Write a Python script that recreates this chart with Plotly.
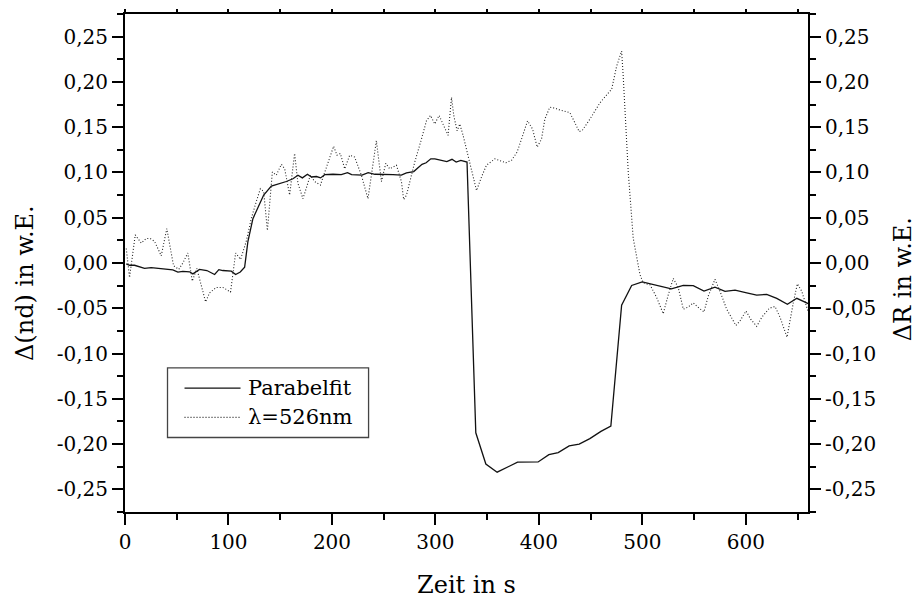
import numpy as np
import plotly.graph_objects as go

# Parabelfit (Δ(nd)), time in s
fit_t = [1.2, 4.4, 9.2, 18.9, 25.3, 39.8, 46.2, 51.1, 55.9, 62.4, 65.6, 72, 79.1, 86.6,
         90.7, 94.6, 102.7, 106.9, 111.4, 115.6, 118.8, 123.6, 130.1, 134, 141.4, 147.8,
         155.9, 162.3, 167.1, 171.4, 176.3, 180.2, 185, 189, 193, 201, 209, 215, 219, 229,
         235, 241.5, 251, 259, 267, 272, 279, 283, 287, 291, 295.5, 299.4, 306, 311, 316,
         320, 324.5, 328.6, 330.5, 339, 348.7, 359.6, 379.3, 399.2, 409.6, 418.6, 429.2,
         438.9, 449.2, 459.9, 469.5, 479.9, 489.6, 499.8, 528, 539.5, 549.1, 559.5, 570.1,
         579.8, 589.5, 600.8, 610.4, 620.1, 629.8, 640.1, 649.2, 660.5]
fit_v = [-0.001, -0.0025, -0.0025, -0.006, -0.005, -0.0073, -0.0077, -0.010, -0.0093,
         -0.0097, -0.012, -0.007, -0.0083, -0.0127, -0.0073, -0.0083, -0.009, -0.0127,
         -0.010, -0.0047, 0.024, 0.049, 0.066, 0.075, 0.085, 0.087, 0.090, 0.093, 0.097,
         0.094, 0.098, 0.095, 0.0955, 0.094, 0.0976, 0.098, 0.0976, 0.0998, 0.0976, 0.097,
         0.0998, 0.098, 0.098, 0.0976, 0.097, 0.0995, 0.101, 0.105, 0.109, 0.1107, 0.115,
         0.115, 0.113, 0.112, 0.1145, 0.1115, 0.1134, 0.112, 0.1115, -0.1875, -0.222,
         -0.231, -0.220, -0.2197, -0.2116, -0.2094, -0.202, -0.200, -0.194, -0.186, -0.180,
         -0.0467, -0.0248, -0.0208, -0.0285, -0.0248, -0.025, -0.031, -0.0266, -0.0314,
         -0.030, -0.0329, -0.0354, -0.0347, -0.039, -0.0456, -0.039, -0.045]

# Measurement at 526 nm (ΔR), time in s
meas_t = [1.2, 4.4, 9.9, 15.7, 20.5, 24.4, 28.5, 35, 40.4, 46.9, 52, 55.9, 60.7, 65, 69.4,
          77.9, 81.7, 88.2, 94.6, 102, 106.9, 111.7, 117.2, 122, 126.9, 130.8, 134, 137.6,
          142.4, 146.2, 151.1, 154.3, 159.1, 163.9, 167.1, 172, 179.1, 183.3, 188.8, 201.6,
          204.8, 208.1, 212.3, 217.1, 221.9, 228.4, 234.8, 242.9, 247.8, 252, 255.8, 262.3,
          267.1, 269.3, 272, 275.2, 280, 286.5, 291.3, 295.2, 299.3, 303.5, 307.4, 312.2,
          315.5, 317.7, 320.9, 323.5, 326.7, 331.5, 334.8, 339.7, 344.5, 349.3, 357.4,
          362.2, 368, 373.5, 378.9, 383.2, 389, 393.8, 398.3, 402.5, 405.7, 410.5, 415.4,
          420.2, 429.9, 434.7, 438.9, 442.2, 449.3, 459, 465.4, 470.3, 475.1, 479.9, 481.4,
          483.5, 486.3, 491.1, 497.6, 500.8, 507.3, 513.7, 520.1, 525, 529.8, 534.6, 536.3,
          539.5, 544.3, 549.1, 554.9, 559.5, 563.6, 570.1, 574.9, 581.4, 590.4, 594.3,
          600.1, 604.6, 610.4, 615.3, 622.6, 628.1, 633, 639.7, 645.8, 649.7, 653.9, 658.8,
          660.5]
meas_v = [0.016, -0.016, 0.031, 0.022, 0.027, 0.027, 0.024, 0.008, 0.038, -0.003, -0.007,
          0.000, 0.011, -0.020, -0.006, -0.043, -0.033, -0.027, -0.027, -0.032, 0.011,
          0.004, 0.024, 0.049, 0.068, 0.082, 0.079, 0.036, 0.1005, 0.097, 0.109, 0.104,
          0.075, 0.121, 0.088, 0.071, 0.097, 0.090, 0.086, 0.129, 0.119, 0.121, 0.104,
          0.119, 0.117, 0.097, 0.071, 0.135, 0.090, 0.110, 0.104, 0.108, 0.090, 0.070,
          0.075, 0.090, 0.1115, 0.137, 0.157, 0.163, 0.1535, 0.163, 0.1535, 0.141, 0.183,
          0.163, 0.146, 0.1535, 0.141, 0.119, 0.1005, 0.080, 0.095, 0.108, 0.115, 0.1134,
          0.1107, 0.1134, 0.1225, 0.137, 0.157, 0.148, 0.128, 0.137, 0.159, 0.172, 0.171,
          0.169, 0.166, 0.155, 0.145, 0.147, 0.159, 0.177, 0.186, 0.192, 0.2175, 0.234,
          0.207, 0.155, 0.1005, 0.0274, -0.0127, -0.022, -0.024, -0.038, -0.056, -0.035,
          -0.017, -0.027, -0.036, -0.051, -0.0486, -0.044, -0.050, -0.054, -0.0365,
          -0.018, -0.031, -0.051, -0.069, -0.064, -0.053, -0.062, -0.070, -0.060, -0.050,
          -0.048, -0.060, -0.082, -0.044, -0.023, -0.031, -0.050, -0.055]

x_ticks = [0, 100, 200, 300, 400, 500, 600]
x_labels = ["0", "100", "200", "300", "400", "500", "600"]
y_ticks = [0.25, 0.20, 0.15, 0.10, 0.05, 0.0, -0.05, -0.10, -0.15, -0.20, -0.25]
y_labels = ["0,25", "0,20", "0,15", "0,10", "0,05", "0,00",
            "-0,05", "-0,10", "-0,15", "-0,20", "-0,25"]
series_names = ["Parabelfit", "λ=526nm"]

X_RANGE = [0, 660]
Y_RANGE = [-0.275, 0.275]
FONT = "DejaVu Serif"

fit_line = dict(color="#111111", width=1.3)
meas_line = dict(color="#222222", width=1.1, dash="1px,2px")

fig = go.Figure()
fig.add_trace(go.Scatter(x=fit_t, y=fit_v, mode="lines", name=series_names[0],
                         line=fit_line, xaxis="x", yaxis="y", showlegend=False))
fig.add_trace(go.Scatter(x=meas_t, y=meas_v, mode="lines", name=series_names[1],
                         line=meas_line, xaxis="x2", yaxis="y2", showlegend=False))

axis_common = dict(showgrid=False, zeroline=False, showline=True, linecolor="black",
                   linewidth=2, ticks="outside", tickcolor="black", tickwidth=2,
                   tickfont=dict(family=FONT, size=20, color="black"))

x_minor = [v for v in range(0, 661, 50)]
y_minor = list(np.round(np.arange(-0.275, 0.2751, 0.025), 3))

fig.update_layout(
    width=916, height=599,
    paper_bgcolor="white", plot_bgcolor="white",
    margin=dict(l=125, r=108, t=11, b=87),
    xaxis=dict(range=X_RANGE, tickmode="array", tickvals=x_ticks, ticktext=x_labels,
               ticklen=11, anchor="y",
               minor=dict(tickmode="array", tickvals=x_minor, ticklen=6, tickwidth=2,
                          ticks="outside", tickcolor="black", showgrid=False),
               **axis_common),
    xaxis2=dict(range=X_RANGE, overlaying="x", side="top", anchor="y2",
                tickmode="array", tickvals=x_minor, ticklen=3, showticklabels=False,
                **axis_common),
    yaxis=dict(range=Y_RANGE, tickmode="array", tickvals=y_ticks, ticktext=y_labels,
               ticklen=11, anchor="x",
               minor=dict(tickmode="array", tickvals=y_minor, ticklen=6, tickwidth=2,
                          ticks="outside", tickcolor="black", showgrid=False),
               **axis_common),
    yaxis2=dict(range=Y_RANGE, overlaying="y", side="right", anchor="x2",
                tickmode="array", tickvals=y_ticks, ticktext=y_labels, ticklen=11,
                minor=dict(tickmode="array", tickvals=y_minor, ticklen=6, tickwidth=2,
                           ticks="outside", tickcolor="black", showgrid=False),
                **axis_common),
    showlegend=False,
)

# plot area in pixels: x 125.5..808.3, y 10.7..512
PX0, PX1, PY0, PY1 = 125.5, 808.3, 10.7, 512.0


def px(xp):
    return (xp - PX0) / (PX1 - PX0)


def py(yp):
    return (PY1 - yp) / (PY1 - PY0)


title_font = dict(family=FONT, size=24, color="black")
fig.add_annotation(text="Zeit in s", xref="paper", yref="paper", x=px(466.7), y=py(585),
                   xanchor="center", yanchor="middle", showarrow=False, font=title_font)
fig.add_annotation(text="Δ(nd) in w.E.", xref="paper", yref="paper", x=px(25), y=py(281),
                   xanchor="center", yanchor="middle", textangle=-90, showarrow=False,
                   font=title_font)
fig.add_annotation(text="ΔR in w.E.", xref="paper", yref="paper", x=px(903), y=py(278),
                   xanchor="center", yanchor="middle", textangle=-90, showarrow=False,
                   font=title_font)

# legend box
fig.add_shape(type="rect", xref="paper", yref="paper", x0=px(168), x1=px(369),
              y0=py(437), y1=py(367), line=dict(color="#444444", width=1.3),
              fillcolor="white", layer="above")
legend_rows = [(387.3, fit_line), (416.7, meas_line)]
for name, (row_y, ln) in zip(series_names, legend_rows):
    fig.add_shape(type="line", xref="paper", yref="paper", x0=px(185), x1=px(241),
                  y0=py(row_y), y1=py(row_y), line=ln, layer="above")
    fig.add_annotation(text=name, xref="paper", yref="paper", x=px(246), y=py(row_y),
                       xanchor="left", yanchor="middle", showarrow=False,
                       font=dict(family=FONT, size=21, color="black"))

fig.write_html("out.html")
